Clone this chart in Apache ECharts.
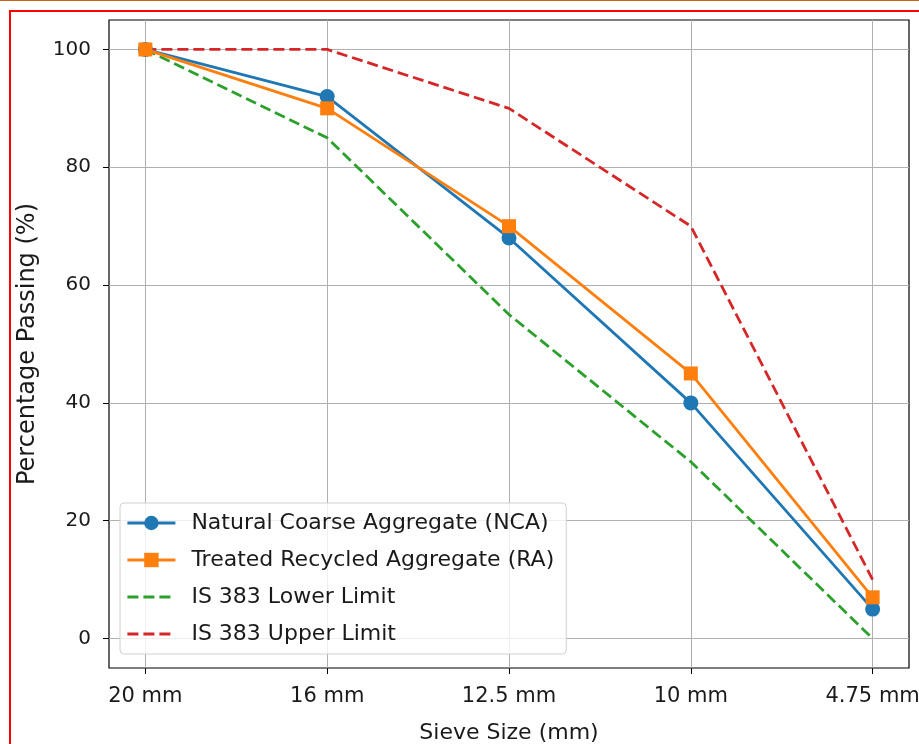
<!DOCTYPE html>
<html>
<head>
<meta charset="utf-8">
<script src="https://cdn.jsdelivr.net/npm/echarts@6/dist/echarts.min.js"></script>
<style>
  html, body { margin: 0; padding: 0; background: #fff; }
  #frame {
    position: absolute; left: 9px; top: 10px; width: 930px; height: 760px;
    border-left: 2px solid #ff0000; border-top: 2px solid #ff0000;
    pointer-events: none;
  }
  #topline { position: absolute; left: 0; top: 0; width: 919px; height: 1px; background: #c8651e; }
  #chart { width: 919px; height: 744px; }
</style>
</head>
<body>
<div id="chart"></div>
<div id="topline"></div>
<div id="frame"></div>
<script>
// sieve sizes along the x axis
const sieveSizes = ['20 mm', '16 mm', '12.5 mm', '10 mm', '4.75 mm'];
// percentage passing values
const ncaValues = [100, 92, 68, 40, 5];
const raValues = [100, 90, 70, 45, 7];
const lowerLimit = [100, 85, 55, 30, 0];
const upperLimit = [100, 100, 90, 70, 10];
const yTicks = [0, 20, 40, 60, 80, 100];

const toPoints = arr => arr.map((v, i) => [i, v]);
const xIdx = sieveSizes.map((s, i) => i);

const chart = echarts.init(document.getElementById('chart'));

const option = {
  animation: false,
  textStyle: { fontFamily: 'DejaVu Sans' },
  grid: {
    left: 109, top: 20, width: 800, height: 648,
    outerBoundsMode: 'none',
    show: true, borderColor: '#000', borderWidth: 1.2
  },
  xAxis: {
    type: 'value',
    min: -0.2, max: 4.2,
    name: 'Sieve Size (mm)',
    nameLocation: 'middle',
    nameGap: 54,
    nameTextStyle: { fontSize: 22, color: '#1a1a1a', fontFamily: 'DejaVu Sans' },
    axisLine: { show: false, onZero: false },
    axisTick: { show: true, length: 6, inside: false, customValues: xIdx, lineStyle: { color: '#000' } },
    axisLabel: {
      customValues: xIdx, fontSize: 21, color: '#1a1a1a', margin: 18, fontFamily: 'DejaVu Sans',
      formatter: v => sieveSizes[Math.round(v)]
    },
    splitLine: { show: true, lineStyle: { color: '#b0b0b0', width: 1 } }
  },
  yAxis: {
    type: 'value',
    min: -5, max: 105,
    name: 'Percentage Passing (%)',
    nameLocation: 'middle',
    nameGap: 69,
    nameTextStyle: { fontSize: 24, color: '#1a1a1a', fontFamily: 'DejaVu Sans' },
    axisLine: { show: false, onZero: false },
    axisTick: { show: true, length: 6, inside: false, customValues: yTicks, lineStyle: { color: '#000' } },
    axisLabel: { customValues: yTicks, fontSize: 20, color: '#1a1a1a', margin: 18, fontFamily: 'DejaVu Sans' },
    splitLine: { show: true, lineStyle: { color: '#b0b0b0', width: 1 } }
  },
  legend: {
    orient: 'vertical',
    left: 120, top: 503,
    padding: [8, 12, 8, 6],
    itemWidth: 48, itemHeight: 18, itemGap: 13,
    backgroundColor: 'rgba(255,255,255,0.8)',
    borderColor: '#d0d0d0', borderWidth: 1, borderRadius: 4,
    lineStyle: { width: 2.8 },
    textStyle: { fontSize: 22, color: '#1a1a1a', lineHeight: 24, padding: [0, 0, 0, 11], fontFamily: 'DejaVu Sans' },
    data: [
      'Natural Coarse Aggregate (NCA)',
      'Treated Recycled Aggregate (RA)',
      { name: 'IS 383 Lower Limit', itemStyle: { opacity: 0 } },
      { name: 'IS 383 Upper Limit', itemStyle: { opacity: 0 } }
    ]
  },
  series: [
    {
      name: 'Natural Coarse Aggregate (NCA)', type: 'line',
      data: toPoints(ncaValues),
      symbol: 'circle', symbolSize: 15,
      itemStyle: { color: '#1f77b4' },
      lineStyle: { color: '#1f77b4', width: 2.8 },
      z: 3
    },
    {
      name: 'Treated Recycled Aggregate (RA)', type: 'line',
      data: toPoints(raValues),
      symbol: 'rect', symbolSize: 14,
      itemStyle: { color: '#ff7f0e' },
      lineStyle: { color: '#ff7f0e', width: 2.8 },
      z: 4
    },
    {
      name: 'IS 383 Lower Limit', type: 'line',
      data: toPoints(lowerLimit),
      symbol: 'none',
      itemStyle: { color: '#2ca02c' },
      lineStyle: { color: '#2ca02c', width: 2.8, type: [11, 5] },
      z: 2
    },
    {
      name: 'IS 383 Upper Limit', type: 'line',
      data: toPoints(upperLimit),
      symbol: 'none',
      itemStyle: { color: '#d62728' },
      lineStyle: { color: '#d62728', width: 2.8, type: [11, 5] },
      z: 2
    }
  ]
};

chart.setOption(option);
</script>
</body>
</html>
